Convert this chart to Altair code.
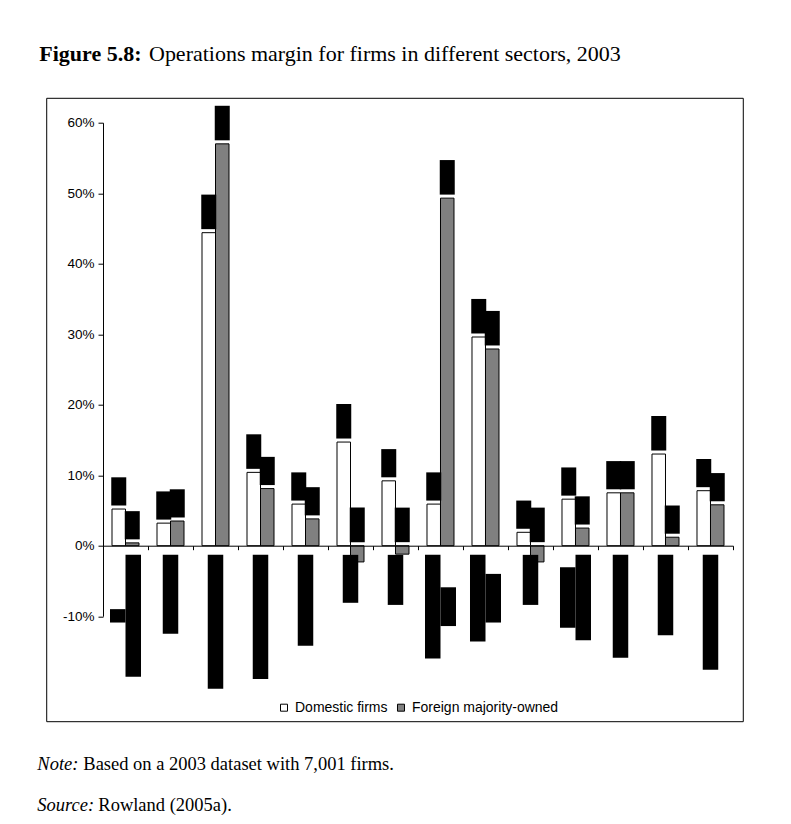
import altair as alt
import pandas as pd

# ---------------- data ----------------
sectors = [f"S{i}" for i in range(1, 15)]          # sector names are blacked out in the source
series = ["Domestic firms", "Foreign majority-owned"]
domestic = [5.2, 3.2, 44.4, 10.4, 5.9, 14.7, 9.2, 5.9, 29.6, 1.9, 6.6, 7.5, 13.0, 7.8]
foreign = [0.4, 3.5, 57.0, 8.1, 3.8, -2.3, -1.2, 49.3, 27.9, -2.3, 2.5, 7.5, 1.2, 5.8]
# lengths (in axis % units) of the blacked-out sector label lines (0 = no second line)
label_line1 = [1.9, 11.2, 19.0, 17.6, 12.9, 6.8, 7.1, 14.7, 12.3, 7.1, 8.6, 14.6, 11.4, 16.3]
label_line2 = [17.3, 0, 0, 0, 0, 0, 0, 5.5, 6.9, 0, 12.1, 0, 0, 0]
y_ticks = [-10, 0, 10, 20, 30, 40, 50, 60]

title_bold = "Figure 5.8:"
title_rest = "Operations margin for firms in different sectors, 2003"
note_lead, note_text = "Note:", "Based on a 2003 dataset with 7,001 firms."
source_lead, source_text = "Source:", "Rowland (2005a)."

# ---------------- tables ----------------
rows = []
for s, d, f in zip(sectors, domestic, foreign):
    rows.append({"sector": s, "series": series[0], "value": d})
    rows.append({"sector": s, "series": series[1], "value": f})
bars = pd.DataFrame(rows)

# blacked-out value labels sitting above each bar
lab = bars.copy()
lab["txt"] = lab["value"].map(lambda v: f"{v:.1f}%")
lab["y0"] = lab["value"].clip(lower=0) + 0.5
lab["y1"] = lab["y0"] + 0.9 * lab["txt"].str.len() + 0.4

# blacked-out sector labels below the axis (one or two rotated lines, centred)
crow = []
for s, a, b in zip(sectors, label_line1, label_line2):
    m = max(a, b)
    c = -1.3 - m / 2
    if b == 0:
        crow.append({"sector": s, "pos": "C", "top": c + a / 2, "bot": c - a / 2})
    else:
        crow.append({"sector": s, "pos": "L", "top": c + a / 2, "bot": c - a / 2})
        crow.append({"sector": s, "pos": "R", "top": c + b / 2, "bot": c - b / 2})
cats = pd.DataFrame(crow)

xscale = alt.Scale(domain=sectors, paddingInner=0, paddingOuter=0)
yscale = alt.Scale(domain=[-10, 60], nice=False, zero=False)
X = alt.X("sector:N", scale=xscale, sort=sectors,
          axis=alt.Axis(title=None, labels=False, orient="bottom", offset=-70.5,
                        tickSize=4, bandPosition=1, tickExtra=True, grid=False,
                        domainColor="black", tickColor="black",
                        domainWidth=1, tickWidth=1, zindex=1))
Y = alt.Y("value:Q", scale=yscale,
          axis=alt.Axis(title=None, values=y_ticks, labelExpr="datum.value + '%'",
                        grid=False, tickSize=5, domainColor="black", tickColor="black",
                        labelColor="black", labelFont="Liberation Sans",
                        labelFontSize=13.5, labelPadding=4))
XO = alt.XOffset("series:N", sort=series,
                 scale=alt.Scale(domain=series, paddingInner=0, paddingOuter=0.6667))

bar_layer = alt.Chart(bars).mark_bar(stroke="black", strokeWidth=1).encode(
    x=X, xOffset=XO, y=Y,
    fill=alt.Fill("series:N", sort=series,
                  scale=alt.Scale(domain=series, range=["#ffffff", "#808080"]),
                  legend=alt.Legend(orient="none", legendX=174, legendY=578,
                                    direction="horizontal", title=None,
                                    symbolType="square", symbolSize=49,
                                    symbolStrokeColor="black", symbolStrokeWidth=1,
                                    labelFont="Liberation Sans", labelFontSize=14,
                                    labelColor="black", padding=0,
                                    columnPadding=6, labelOffset=4)),
)

val_layer = alt.Chart(lab).mark_bar(color="black", width=15).encode(
    x=alt.X("sector:N", scale=xscale, sort=sectors),
    xOffset=XO,
    y=alt.Y("y0:Q", scale=yscale),
    y2="y1:Q",
)

def cat_layer(pos, dx):
    return alt.Chart(cats[cats["pos"] == pos]).mark_bar(
        color="black", width=15.5, xOffset=dx).encode(
        x=alt.X("sector:N", scale=xscale, sort=sectors),
        y=alt.Y("top:Q", scale=yscale),
        y2="bot:Q",
    )

def txt(t, x, y, size, style="normal", weight="normal", font="Liberation Serif"):
    return alt.Chart(pd.DataFrame({"t": [t]})).mark_text(
        align="left", baseline="alphabetic", font=font, fontSize=size,
        fontStyle=style, fontWeight=weight, color="black").encode(
        text="t:N", x=alt.value(x), y=alt.value(y))

frame = alt.Chart(pd.DataFrame({"a": [0]})).mark_rect(
    filled=False, stroke="black", strokeWidth=1).encode(
    x=alt.value(-56.3), x2=alt.value(640.3), y=alt.value(-24.4), y2=alt.value(599))

chart = alt.layer(
    frame,
    bar_layer,
    val_layer,
    cat_layer("C", 0),
    cat_layer("L", -7.75),
    cat_layer("R", 7.75),
    txt(title_bold, -63.7, -61.7, 22, weight="bold"),
    txt(title_rest, 46, -61.7, 22),
    txt(note_lead, -65.7, 647.3, 18.5, style="italic"),
    txt(note_text, -19.7, 647.3, 18.5),
    txt(source_lead, -65.7, 688.3, 18.5, style="italic"),
    txt(source_text, -4.7, 688.3, 18.5),
).properties(
    width=630, height=493.5,
    padding={"left": 95, "top": 114.7, "right": 50, "bottom": 199},
    autosize=alt.AutoSizeParams(type="none"),
    background="white",
).configure_view(strokeWidth=0, stroke=None)

chart.save("out.html", embed_options={"renderer": "svg", "actions": False})
